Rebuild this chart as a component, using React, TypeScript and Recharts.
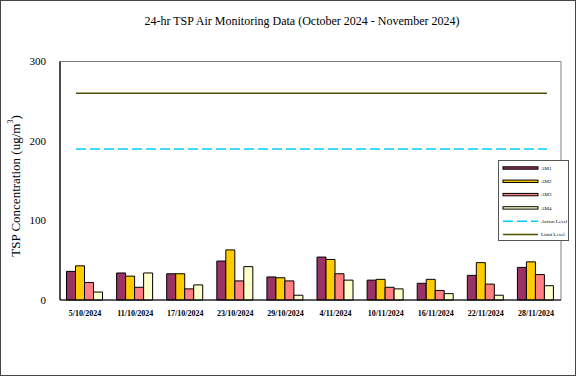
import React from 'react';
import { ComposedChart, Bar, XAxis, YAxis, ReferenceLine, ReferenceArea } from 'recharts';

const categories = ['5/10/2024', '11/10/2024', '17/10/2024', '23/10/2024', '29/10/2024', '4/11/2024', '10/11/2024', '16/11/2024', '22/11/2024', '28/11/2024'];
const am1 = [36, 34, 33, 49, 29, 54, 25, 21, 31, 41];
const am2 = [43, 30, 33, 63, 28, 51, 26, 26, 47, 48];
const am3 = [22, 16, 14, 24, 24, 33, 16, 12, 20, 32];
const am4 = [10, 34, 19, 42, 6, 25, 14, 8, 6, 18];
const actionLevel = 190;
const limitLevel = 260;
const yTicks = [0, 100, 200, 300];
const seriesNames = ['AM1', 'AM2', 'AM3', 'AM4'];
const seriesColors = ['#993366', '#FFCC00', '#FF8080', '#FFFFCC'];
const levelSpan = [0.32, 9.72];

const data = categories.map((c, i) => ({ name: c, idx: i + 0.5, AM1: am1[i], AM2: am2[i], AM3: am3[i], AM4: am4[i] }));

const FONT = '"Liberation Serif", "Times New Roman", serif';

const LegendBox = () => {
  const items = [
    ...seriesNames.map((n, i) => ({ n, kind: 'bar', color: seriesColors[i] })),
    { n: 'Action Level', kind: 'dash', color: '#00CCFF' },
    { n: 'Limit Level', kind: 'line', color: '#4F4F00' },
  ];
  return (
    <svg width={72} height={82} style={{ display: 'block' }}>
      <rect x={0.5} y={0.5} width={70} height={80} fill="#fff" stroke="#555" strokeWidth={1} />
      {items.map((it, i) => {
        const y = 8 + i * 13.3;
        return (
          <g key={it.n}>
            {it.kind === 'bar' && <rect x={5} y={y - 1.2} width={35} height={2.4} fill={it.color} stroke="#000" strokeWidth={1} />}
            {it.kind === 'dash' && <line x1={5} x2={40} y1={y} y2={y} stroke={it.color} strokeWidth={1.5} strokeDasharray="10 4" />}
            {it.kind === 'line' && <line x1={5} x2={40} y1={y} y2={y} stroke={it.color} strokeWidth={1.5} />}
            <text x={43} y={y + 1.8} fontSize={5} fontFamily={FONT} fill="#000">{it.n}</text>
          </g>
        );
      })}
    </svg>
  );
};

const YLabel = () => (
  <text x={15} y={186} transform="rotate(-90 15 186)" textAnchor="middle" fontSize={13} fontFamily={FONT} fill="#000" dominantBaseline="central">
    TSP Concentration (ug/m<tspan dy={-5} fontSize={8}>3</tspan><tspan dy={5}>)</tspan>
  </text>
);

export default function App() {
  return (
    <div style={{ position: 'absolute', left: 0, top: 0, width: 576, height: 376, boxSizing: 'border-box', border: '1.5px solid #444', background: '#fff', overflow: 'hidden' }}>
      <div style={{ position: 'absolute', left: -1.5, top: -1.5 }}>
        <ComposedChart
          width={576}
          height={376}
          data={data}
          margin={{ top: 61.5, right: 15, bottom: 56, left: 0 }}
          barCategoryGap="13%"
          barGap={0}
        >
          <text x={302} y={21} textAnchor="middle" dominantBaseline="central" fontSize={12} fontFamily={FONT} fill="#000">
            24-hr TSP Air Monitoring Data (October 2024 - November 2024)
          </text>
          <XAxis xAxisId="ref" dataKey="idx" type="number" domain={[0, 10]} allowDataOverflow hide />
          <ReferenceArea xAxisId="ref" x1={0} x2={10} y1={0} y2={300} fill="none" stroke="#808080" strokeWidth={1} />
          <XAxis
            dataKey="name"
            height={20}
            interval={0}
            axisLine={{ stroke: '#000', strokeWidth: 1.2 }}
            tickLine={false}
            tick={{ fontSize: 8, fontWeight: 'bold', fontFamily: FONT, fill: '#000' }}
            tickMargin={4}
          />
          <YAxis
            width={60}
            domain={[0, 300]}
            ticks={yTicks}
            interval={0}
            axisLine={{ stroke: '#000', strokeWidth: 1.2 }}
            tickLine={false}
            tickMargin={8}
            tick={{ fontSize: 11, fontFamily: FONT, fill: '#000' }}
            label={<YLabel />}
          />
          {seriesNames.map((n, i) => (
            <Bar key={n} dataKey={n} fill={seriesColors[i]} stroke="#000" strokeWidth={1} isAnimationActive={false} />
          ))}
          <ReferenceLine xAxisId="ref" segment={[{ x: levelSpan[0], y: actionLevel }, { x: levelSpan[1], y: actionLevel }]} stroke="#00CCFF" strokeWidth={1.5} strokeDasharray="10 4" />
          <ReferenceLine xAxisId="ref" segment={[{ x: levelSpan[0], y: limitLevel }, { x: levelSpan[1], y: limitLevel }]} stroke="#4F4F00" strokeWidth={1.5} />
        </ComposedChart>
      </div>
      <div style={{ position: 'absolute', left: 496.5, top: 158.5 }}>
        <LegendBox />
      </div>
    </div>
  );
}
